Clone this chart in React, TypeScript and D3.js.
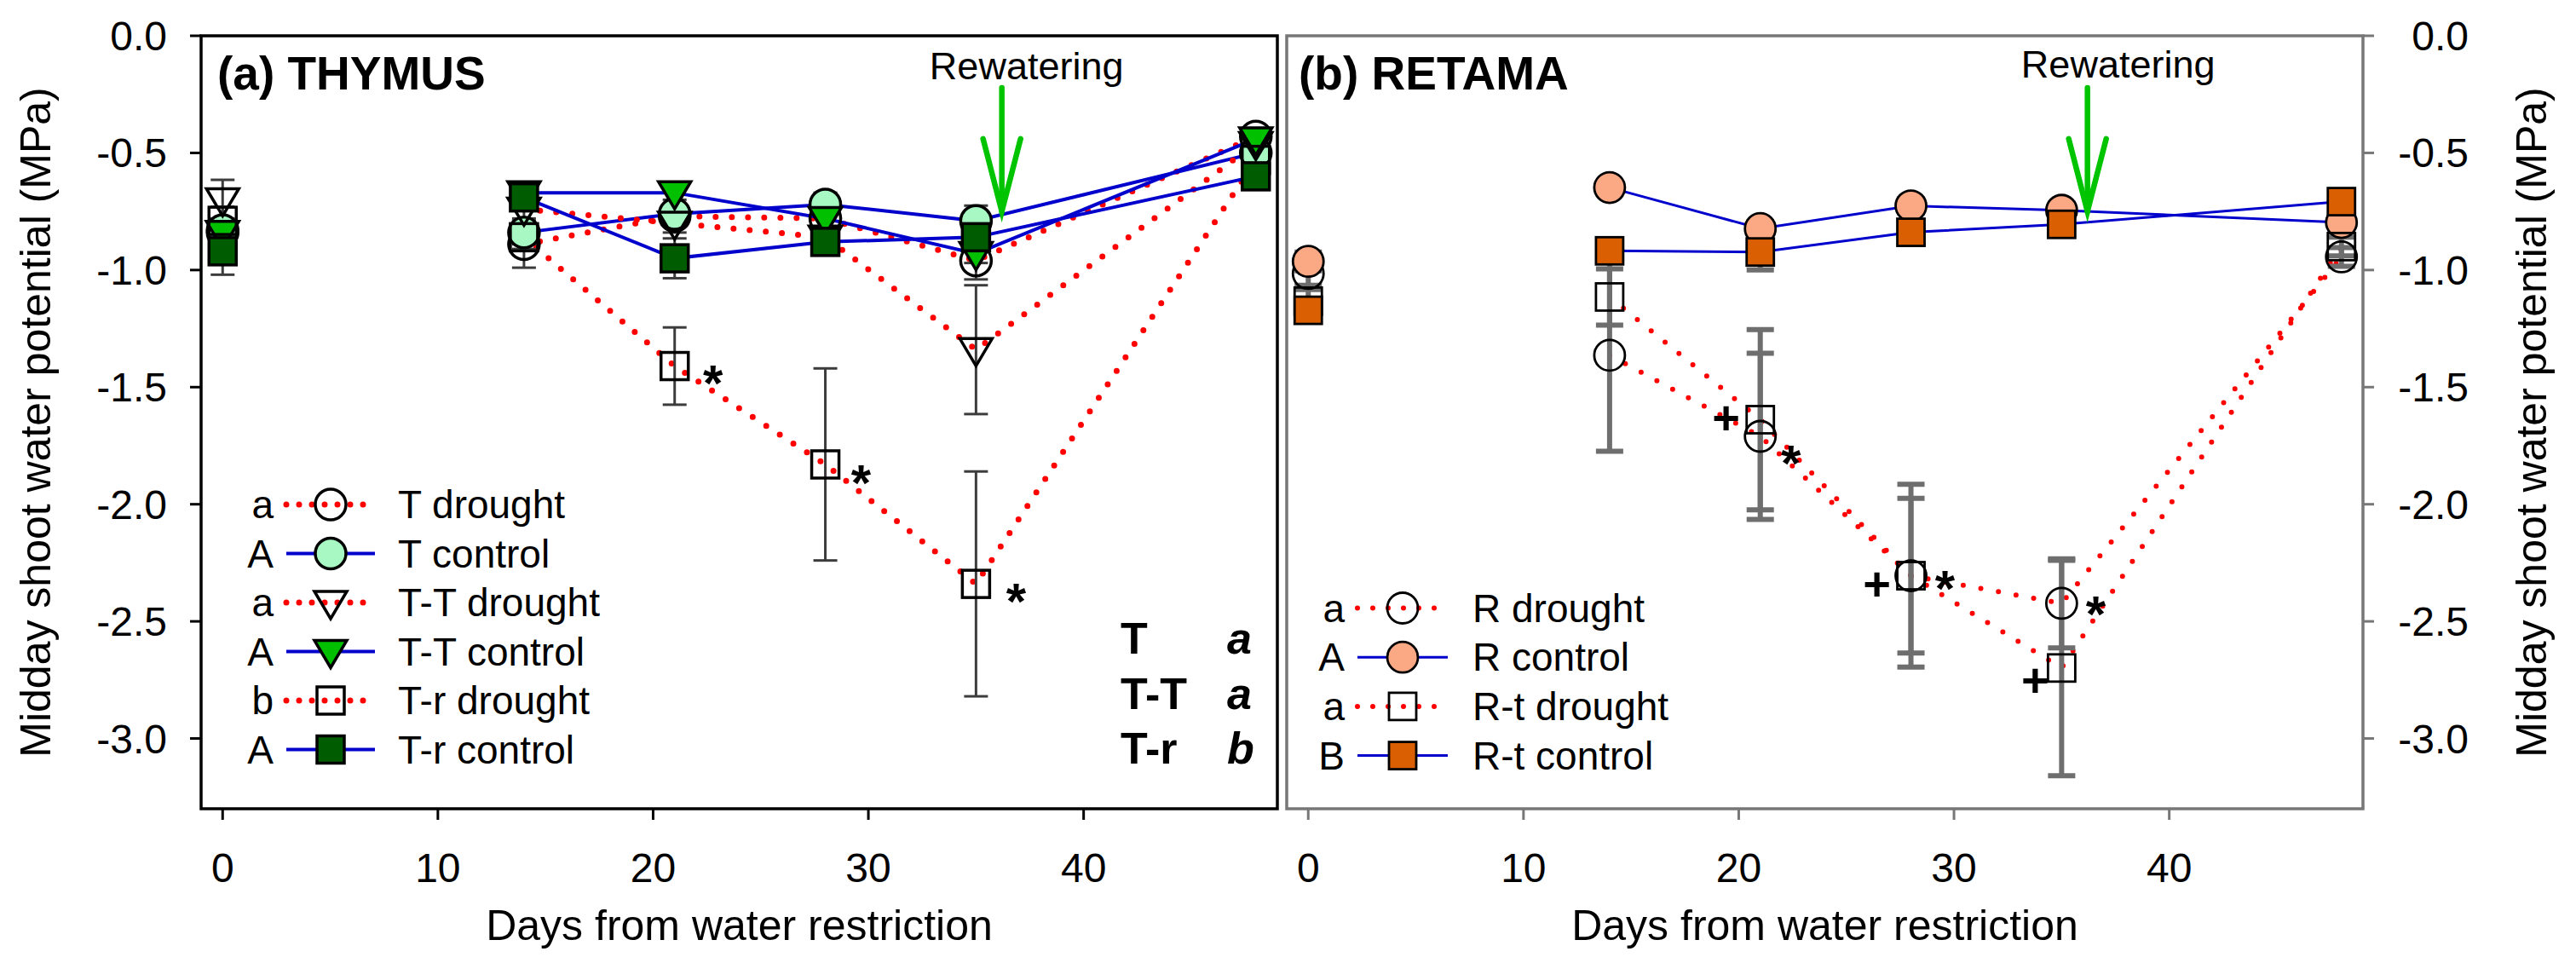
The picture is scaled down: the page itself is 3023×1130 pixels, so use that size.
import * as d3 from "d3";

const W = 3023;
const H = 1130;
const FONT = "'Liberation Sans', Arial, Helvetica, sans-serif";

// sampling days (same for both species); day 0 is a baseline, not joined by lines
const DAYS = [0, 14, 21, 28, 35, 48];
const X_TICKS = [0, 10, 20, 30, 40];
const Y_TICKS = [0, -0.5, -1, -1.5, -2, -2.5, -3];

// (a) THYMUS
const T_DROUGHT = [-0.84, -0.89, -0.77, -0.78, -0.96, -0.43];
const T_DROUGHT_SE = [0.06, 0.1, 0.04, 0.04, 0.08, 0.03];
const T_CONTROL = [-0.83, -0.84, -0.76, -0.72, -0.79, -0.5];
const T_CONTROL_SE = [0.05, 0.05, 0.04, 0.05, 0.065, 0.03];
const TT_DROUGHT = [-0.7, -0.74, -0.8, -0.86, -1.34, -0.46];
const TT_DROUGHT_SE = [0.085, 0.04, 0.04, 0.04, 0.275, 0.03];
const TT_CONTROL = [-0.84, -0.67, -0.67, -0.78, -0.93, -0.44];
const TT_CONTROL_SE = [0.04, 0.03, 0.03, 0.04, 0.04, 0.03];
const TR_DROUGHT = [-0.79, -0.86, -1.41, -1.83, -2.34, -0.53];
const TR_DROUGHT_SE = [0.06, 0.05, 0.165, 0.41, 0.48, 0.03];
const TR_CONTROL = [-0.92, -0.69, -0.95, -0.88, -0.86, -0.6];
const TR_CONTROL_SE = [0.1, 0.04, 0.085, 0.04, 0.04, 0.03];
const T_NAMES = ["T drought", "T control", "T-T drought", "T-T control", "T-r drought", "T-r control"];
const T_LETTERS = ["a", "A", "a", "A", "b", "A"];
const GROUP_NAMES = ["T", "T-T", "T-r"];
const GROUP_LETTERS = ["a", "a", "b"];

// (b) RETAMA
const R_DROUGHT = [-1.015, -1.364, -1.71, -2.305, -2.423, -0.944];
const R_DROUGHT_SE = [0.05, 0.41, 0.355, 0.33, 0.19, 0.04];
const R_CONTROL = [-0.963, -0.648, -0.823, -0.726, -0.745, -0.797];
const R_CONTROL_SE = [0.04, 0.02, 0.03, 0.03, 0.03, 0.03];
const RT_DROUGHT = [-1.133, -1.115, -1.639, -2.305, -2.699, -0.9];
const RT_DROUGHT_SE = [0.05, 0.12, 0.385, 0.39, 0.46, 0.04];
const RT_CONTROL = [-1.172, -0.918, -0.923, -0.839, -0.805, -0.708];
const RT_CONTROL_SE = [0.05, 0.03, 0.077, 0.03, 0.03, 0.03];
const R_NAMES = ["R drought", "R control", "R-t drought", "R-t control"];
const R_LETTERS = ["a", "A", "a", "B"];

const REWATER_DAY = 36.2;

type Shape = "circle" | "triangle" | "square";
type Series = {
  name: string;
  letter: string;
  values: number[];
  se: number[];
  drought: boolean;
  shape: Shape;
  fill: string;
};

const thymus: Series[] = [
  { name: T_NAMES[0], letter: T_LETTERS[0], values: T_DROUGHT, se: T_DROUGHT_SE, drought: true, shape: "circle", fill: "none" },
  { name: T_NAMES[1], letter: T_LETTERS[1], values: T_CONTROL, se: T_CONTROL_SE, drought: false, shape: "circle", fill: "#a8f8c4" },
  { name: T_NAMES[2], letter: T_LETTERS[2], values: TT_DROUGHT, se: TT_DROUGHT_SE, drought: true, shape: "triangle", fill: "none" },
  { name: T_NAMES[3], letter: T_LETTERS[3], values: TT_CONTROL, se: TT_CONTROL_SE, drought: false, shape: "triangle", fill: "#00c000" },
  { name: T_NAMES[4], letter: T_LETTERS[4], values: TR_DROUGHT, se: TR_DROUGHT_SE, drought: true, shape: "square", fill: "none" },
  { name: T_NAMES[5], letter: T_LETTERS[5], values: TR_CONTROL, se: TR_CONTROL_SE, drought: false, shape: "square", fill: "#005c00" },
];

const retama: Series[] = [
  { name: R_NAMES[0], letter: R_LETTERS[0], values: R_DROUGHT, se: R_DROUGHT_SE, drought: true, shape: "circle", fill: "none" },
  { name: R_NAMES[1], letter: R_LETTERS[1], values: R_CONTROL, se: R_CONTROL_SE, drought: false, shape: "circle", fill: "#fba985" },
  { name: R_NAMES[2], letter: R_LETTERS[2], values: RT_DROUGHT, se: RT_DROUGHT_SE, drought: true, shape: "square", fill: "none" },
  { name: R_NAMES[3], letter: R_LETTERS[3], values: RT_CONTROL, se: RT_CONTROL_SE, drought: false, shape: "square", fill: "#d95f02" },
];

// significance marks: series index, day index, symbol, offset
const T_MARKS = [
  { s: 4, i: 2, sym: "*", dx: 45, dy: 7 },
  { s: 4, i: 3, sym: "*", dx: 42, dy: 8 },
  { s: 4, i: 4, sym: "*", dx: 47, dy: 7 },
];
const R_MARKS = [
  { s: 0, i: 2, sym: "*", dx: 36, dy: 18 },
  { s: 0, i: 3, sym: "*", dx: 40, dy: 2 },
  { s: 0, i: 4, sym: "*", dx: 40, dy: -1 },
  { s: 2, i: 2, sym: "+", dx: -40, dy: -4 },
  { s: 2, i: 3, sym: "+", dx: -40, dy: 8 },
  { s: 2, i: 4, sym: "+", dx: -31, dy: 13 },
];

const TOP = 42;
const BOTTOM = 949;
const y = d3.scaleLinear().domain([-3.3, 0]).range([BOTTOM, TOP]);

const Marker = ({ shape, x, cy, fill, sw }: { shape: Shape; x: number; cy: number; fill: string; sw: number }) => {
  if (shape === "circle") return <circle cx={x} cy={cy} r={18} fill={fill} stroke="#000" strokeWidth={sw} />;
  if (shape === "square") return <rect x={x - 16} y={cy - 16} width={32} height={32} fill={fill} stroke="#000" strokeWidth={sw} />;
  return <path d={`M${x - 19},${cy - 13}L${x + 19},${cy - 13}L${x},${cy + 19}Z`} fill={fill} stroke="#000" strokeWidth={sw} strokeLinejoin="miter" />;
};

type PanelProps = {
  x0: number;
  x1: number;
  series: Series[];
  title: string;
  frame: string;
  side: "left" | "right";
  errColor: string;
  errWidth: number;
  capHalf: number;
  dotW: number;
  dotGap: number;
  blueW: number;
  legendY: number;
  legend: { letterX: number; lineX0: number; lineX1: number; markX: number; labelX: number; gap: number; dotGap: number };
  marks: { s: number; i: number; sym: string; dx: number; dy: number }[];
  rewaterDx: number;
  rewaterY: number;
};

const Panel = (p: PanelProps) => {
  const x = d3.scaleLinear().domain([-1, 49]).range([p.x0, p.x1]);
  // the day-0 baseline stands alone
  const line = d3
    .line<number>()
    .defined((_, i) => DAYS[i] > 0)
    .x((_, i) => x(DAYS[i]))
    .y((v) => y(v));
  const red = "#ff0000";
  const blue = "#0000cc";
  const axisX = p.side === "left" ? p.x0 : p.x1;
  const ax = x(REWATER_DAY);
  const sw = p.side === "left" ? 3.5 : 2.8;

  return (
    <g fontFamily={FONT}>
      {/* lines */}
      {p.series.map((s) => (
        <path
          key={"l" + s.name}
          d={line(s.values) || ""}
          fill="none"
          stroke={s.drought ? red : blue}
          strokeWidth={s.drought ? p.dotW : p.blueW}
          strokeDasharray={s.drought ? `0 ${p.dotGap}` : undefined}
          strokeLinecap={s.drought ? "round" : "butt"}
        />
      ))}
      {/* error bars */}
      {p.series.map((s) =>
        s.values.map((v, i) => {
          const cx = x(DAYS[i]);
          const ya = y(v + s.se[i]);
          const yb = y(v - s.se[i]);
          return (
            <g key={"e" + s.name + i} stroke={p.errColor} strokeWidth={p.errWidth}>
              <line x1={cx} x2={cx} y1={ya} y2={yb} />
              <line x1={cx - p.capHalf} x2={cx + p.capHalf} y1={ya} y2={ya} />
              <line x1={cx - p.capHalf} x2={cx + p.capHalf} y1={yb} y2={yb} />
            </g>
          );
        })
      )}
      {/* markers */}
      {p.series.map((s) => (
        <g key={"m" + s.name}>
          {s.values.map((v, i) => (
            <Marker key={i} shape={s.shape} x={x(DAYS[i])} cy={y(v)} fill={s.fill} sw={sw} />
          ))}
        </g>
      ))}
      {/* significance marks */}
      {p.marks.map((m, k) => {
        const s = p.series[m.s];
        const fs = m.sym === "*" ? 60 : 56;
        const off = m.sym === "*" ? 0.56 : 0.36;
        return (
          <text
            key={"mk" + k}
            x={x(DAYS[m.i]) + m.dx}
            y={y(s.values[m.i]) + m.dy + off * fs}
            fontSize={fs}
            fontWeight="bold"
            textAnchor="middle"
          >
            {m.sym}
          </text>
        );
      })}
      {/* rewatering arrow */}
      <g stroke="#00c400" strokeWidth={6.5} strokeLinecap="round" fill="none">
        <line x1={ax} x2={ax} y1={y(-0.222)} y2={y(-0.75)} />
        <path d={`M${ax - 22},${y(-0.44)}L${ax},${y(-0.75)}L${ax + 22},${y(-0.44)}`} strokeLinejoin="miter" />
      </g>
      <text x={ax + p.rewaterDx} y={p.rewaterY} fontSize={45} textAnchor="middle">
        Rewatering
      </text>
      {/* frame */}
      <rect x={p.x0} y={TOP} width={p.x1 - p.x0} height={BOTTOM - TOP} fill="none" stroke={p.frame} strokeWidth={3.5} />
      {/* x axis */}
      {X_TICKS.map((t) => (
        <g key={"xt" + t}>
          <line x1={x(t)} x2={x(t)} y1={BOTTOM} y2={BOTTOM + 13} stroke={p.frame} strokeWidth={3} />
          <text x={x(t)} y={1035} fontSize={48} textAnchor="middle">
            {t}
          </text>
        </g>
      ))}
      <text x={(p.x0 + p.x1) / 2} y={1103} fontSize={50} textAnchor="middle">
        Days from water restriction
      </text>
      {/* y axis */}
      {Y_TICKS.map((t) => (
        <g key={"yt" + t}>
          <line
            x1={axisX}
            x2={p.side === "left" ? axisX - 13 : axisX + 13}
            y1={y(t)}
            y2={y(t)}
            stroke={p.frame}
            strokeWidth={3}
          />
          <text x={p.side === "left" ? 196 : 2897} y={y(t) + 17} fontSize={48} textAnchor="end">
            {d3.format(".1f")(t).replace("−", "-")}
          </text>
        </g>
      ))}
      <text
        transform={`translate(${p.side === "left" ? 59 : 2988},${(TOP + BOTTOM) / 2}) rotate(-90)`}
        fontSize={50}
        textAnchor="middle"
      >
        Midday shoot water potential (MPa)
      </text>
      {/* panel title */}
      <text x={p.x0 + (p.side === "left" ? 19 : 14)} y={105} fontSize={55} fontWeight="bold">
        {p.title}
      </text>
      {/* legend */}
      {p.series.map((s, k) => {
        const ly = p.legendY + k * p.legend.gap;
        return (
          <g key={"lg" + s.name}>
            <text x={p.legend.letterX} y={ly + 16} fontSize={46} textAnchor="end">
              {s.letter}
            </text>
            <line
              x1={p.legend.lineX0}
              x2={p.legend.lineX1}
              y1={ly}
              y2={ly}
              stroke={s.drought ? red : blue}
              strokeWidth={s.drought ? p.dotW : p.blueW}
              strokeDasharray={s.drought ? `0 ${p.legend.dotGap}` : undefined}
              strokeLinecap={s.drought ? "round" : "butt"}
            />
            <Marker shape={s.shape} x={p.legend.markX} cy={ly} fill={s.fill} sw={sw} />
            <text x={p.legend.labelX} y={ly + 16} fontSize={46}>
              {s.name}
            </text>
          </g>
        );
      })}
    </g>
  );
};

export default function App() {
  return (
    <svg width={W} height={H} style={{ position: "absolute", left: 0, top: 0, background: "#fff" }}>
      <rect width={W} height={H} fill="#fff" />
      <Panel
        x0={236}
        x1={1499}
        series={thymus}
        title="(a) THYMUS"
        frame="#000"
        side="left"
        errColor="#3c3c3c"
        errWidth={3}
        capHalf={14}
        dotW={7}
        dotGap={19}
        blueW={4}
        legendY={592}
        legend={{ letterX: 321, lineX0: 336, lineX1: 440, markX: 388, labelX: 467, gap: 57.5, dotGap: 15 }}
        marks={T_MARKS}
        rewaterDx={29}
        rewaterY={93}
      />
      <Panel
        x0={1510}
        x1={2773}
        series={retama}
        title="(b) RETAMA"
        frame="#777"
        side="right"
        errColor="#6e6e6e"
        errWidth={6}
        capHalf={16}
        dotW={6}
        dotGap={21}
        blueW={3}
        legendY={713.5}
        legend={{ letterX: 1578, lineX0: 1593, lineX1: 1699, markX: 1646, labelX: 1728, gap: 57.7, dotGap: 18 }}
        marks={R_MARKS}
        rewaterDx={36}
        rewaterY={91}
      />
      {/* group letters, thymus */}
      {GROUP_NAMES.map((g, k) => (
        <g key={g} fontFamily={FONT} fontSize={52} fontWeight="bold">
          <text x={1315} y={767 + k * 64.5}>
            {g}
          </text>
          <text x={1440} y={767 + k * 64.5} fontStyle="italic">
            {GROUP_LETTERS[k]}
          </text>
        </g>
      ))}
    </svg>
  );
}
